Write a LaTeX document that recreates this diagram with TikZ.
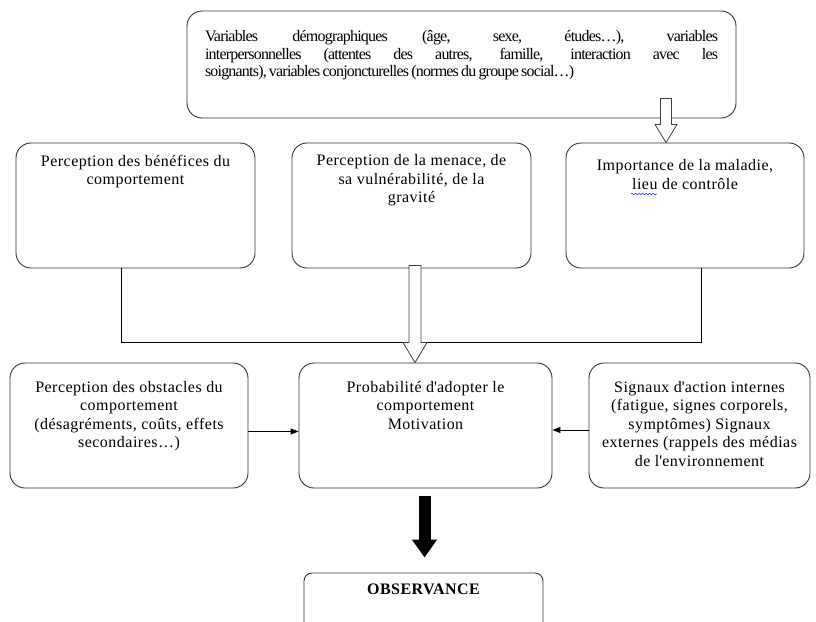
\documentclass[tikz,border=0pt]{standalone}
\usepackage{fontspec}
\setmainfont{Liberation Serif}
\usetikzlibrary{positioning,arrows.meta,decorations.pathmorphing}
\hyphenpenalty=10000

\newcommand{\flecheblanche}[5]{%
  \draw[creuse] ([xshift=-#3]#1) -- ([xshift=-#3,yshift=#5]#2) -- ([xshift=-#4,yshift=#5]#2)
    -- (#2) -- ([xshift=#4,yshift=#5]#2) -- ([xshift=#3,yshift=#5]#2) -- ([xshift=#3]#1) -- cycle;}

\begin{document}
\begin{tikzpicture}[x=1pt,y=-1pt,
  boite/.style={draw=black!80,line width=0.9pt,rounded corners=15pt,minimum height=125pt},
  texte/.style={inner sep=0pt,align=center,font=\fontsize{16}{18.5}\selectfont\addfontfeature{LetterSpace=3}},
  trait/.style={line width=0.9pt},
  fleche/.style={line width=0.9pt,-{Triangle[length=8pt,width=6pt]}},
  creuse/.style={draw=black!75,fill=white,line width=0.8pt},
  pleine/.style={line width=12pt,-{Triangle[length=18pt,width=24pt]}},
  ondule/.style={blue!80,line width=0.6pt,decorate,decoration={snake,amplitude=0.9pt,segment length=3.5pt}}]

  \useasboundingbox (0,0) rectangle (816,621);
  \clip (0,0) rectangle (816,621);

  \node[boite,minimum width=549pt,minimum height=107pt] (haut) at (461.5,64.5) {};
  \node[boite,minimum width=239pt] (benef) at (135.5,205.5) {};
  \node[boite,minimum width=239pt] (menace) at (411.5,205.5) {};
  \node[boite,minimum width=238pt] (imp) at (685,205.5) {};
  \node[boite,minimum width=238pt] (obst) at (129,425.5) {};
  \node[boite,minimum width=253pt] (motiv) at (425.5,425.5) {};
  \node[boite,minimum width=221pt] (signaux) at (699.5,425.5) {};
  \node[boite,rounded corners=8pt,minimum width=239pt,minimum height=62pt] (obs) at (423.5,604) {};

  \node[texte,text width=513pt,align=justify,below=19.5pt of haut.north,
        font=\fontsize{16}{17.8}\selectfont\addfontfeature{LetterSpace=-5}] (haut-t)
    {\spaceskip=2.2pt plus 30pt
     Variables démographiques (âge, sexe, études…), variables\linebreak
     interpersonnelles (attentes des autres, famille, interaction avec les\linebreak
     soignants), variables conjoncturelles (normes du groupe social…)};
  \node[texte,below=12pt of benef.north] (benef-t) {Perception des bénéfices du\\comportement};
  \node[texte,below=12pt of menace.north] (menace-t) {Perception de la menace, de\\sa vulnérabilité, de la\\gravité};
  \node[texte,below=17pt of imp.north] (imp-t) {Importance de la maladie,\\lieu de contrôle};
  \node[texte,below=18.5pt of obst.north] (obst-t)
    {Perception des obstacles du\\comportement\\(désagréments, coûts, effets\\secondaires…)};
  \node[texte,below=18.5pt of motiv.north] (motiv-t)
    {Probabilité d\textquotesingle adopter le\\comportement\\Motivation};
  \node[texte,below=18.5pt of signaux.north] (signaux-t)
    {Signaux d\textquotesingle action internes\\(fatigue, signes corporels,\\symptômes) Signaux\\externes (rappels des médias\\de l\textquotesingle environnement};
  \node[texte,font=\fontsize{16}{19}\selectfont\bfseries\addfontfeature{LetterSpace=3},below=11pt of obs.north] (obs-t) {OBSERVANCE};

  \draw[ondule] (631,194) -- (657,194);

  \draw[trait] ([xshift=-14.5pt]benef.south) -- ++(0,74) -| ([xshift=16pt]imp.south);
  \draw[fleche] ([yshift=-6pt]obst.east) -- ([yshift=-6pt]obst.east -| motiv.west);
  \draw[fleche] ([yshift=-4.5pt]signaux.west) -- ([yshift=-4.5pt]signaux.west -| motiv.east);

  \coordinate (h2) at ([xshift=-19pt]imp.north);
  \coordinate (h1) at ([yshift=44pt]h2);
  \flecheblanche{h1}{h2}{5.5pt}{11pt}{18pt}

  \coordinate (m1) at ([xshift=3.5pt,yshift=3pt]menace.south);
  \coordinate (m2) at (m1 |- motiv.north);
  \flecheblanche{m1}{m2}{6pt}{12pt}{20pt}

  \coordinate (n1) at ([xshift=-1pt,yshift=-8pt]motiv.south);
  \draw[pleine] (n1) -- ([yshift=15pt]n1 |- obs.north);

\end{tikzpicture}
\end{document}
